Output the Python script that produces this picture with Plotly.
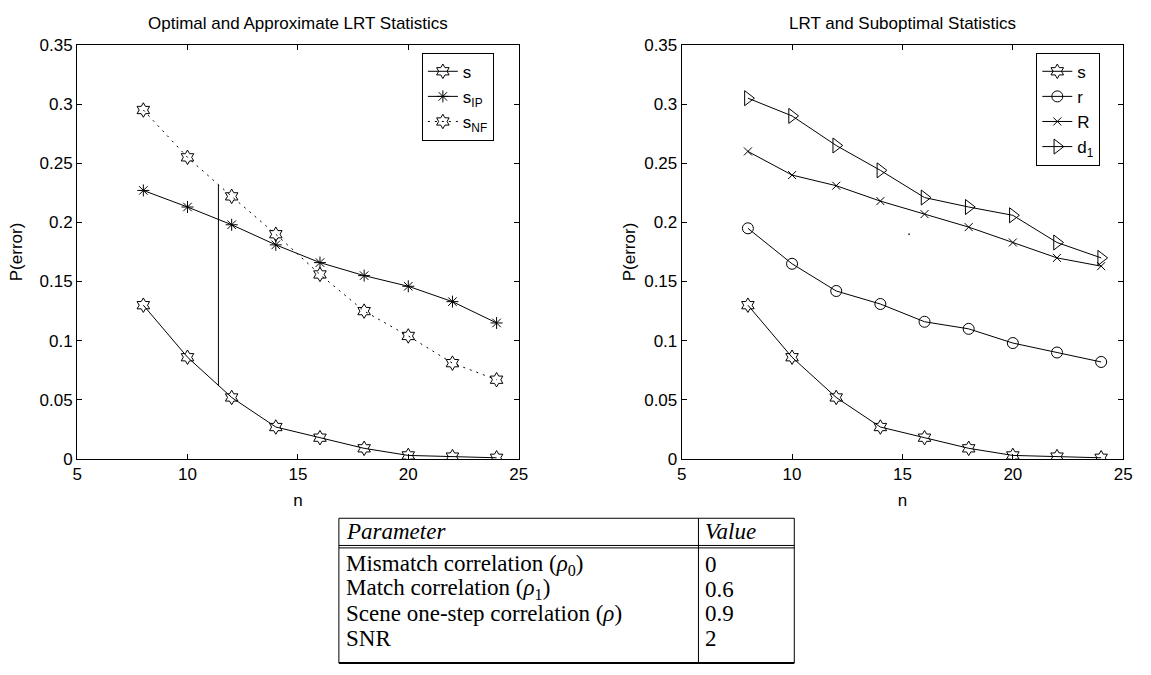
import plotly.graph_objects as go

# ---------------- data ----------------
n_vals = [8, 10, 12, 14, 16, 18, 20, 22, 24]

# left panel
s_vals = [0.130, 0.086, 0.052, 0.027, 0.018, 0.009, 0.003, 0.002, 0.001]
s_ip_vals = [0.227, 0.213, 0.198, 0.181, 0.166, 0.155, 0.146, 0.133, 0.115]
s_nf_vals = [0.295, 0.255, 0.222, 0.190, 0.156, 0.125, 0.104, 0.081, 0.067]
vline_x = [11.4, 11.4]
vline_y = [0.0615, 0.2317]

# right panel
r_vals = [0.195, 0.165, 0.142, 0.131, 0.116, 0.110, 0.098, 0.090, 0.082]
R_vals = [0.260, 0.240, 0.231, 0.218, 0.207, 0.196, 0.183, 0.170, 0.163]
d1_vals = [0.305, 0.290, 0.265, 0.244, 0.221, 0.213, 0.206, 0.183, 0.170]
dot_x = [15.3]
dot_y = [0.190]

x_ticks = [5, 10, 15, 20, 25]
y_ticks = [0, 0.05, 0.1, 0.15, 0.2, 0.25, 0.3, 0.35]
y_tick_text = ["0", "0.05", "0.1", "0.15", "0.2", "0.25", "0.3", "0.35"]

titles = ["Optimal and Approximate LRT Statistics", "LRT and Suboptimal Statistics"]

table_header = ["Parameter", "Value"]
table_params = ["Mismatch correlation (<i>ρ</i><sub>0</sub>)",
                "Match correlation (<i>ρ</i><sub>1</sub>)",
                "Scene one-step correlation (<i>ρ</i>)",
                "SNR"]
table_values = ["0", "0.6", "0.9", "2"]

# ---------------- layout helpers ----------------
W, H = 1151, 675
def px(x):
    return x / W
def py(y):
    return 1 - y / H

SANS = "Liberation Sans, Arial, sans-serif"
SERIF = "Liberation Serif, Times New Roman, serif"
BLACK = "black"

fig = go.Figure()

def line_kw(dash="solid"):
    return dict(color=BLACK, width=1, dash=dash)

def mk(symbol, size):
    return dict(symbol=symbol, size=size, color=BLACK, line=dict(width=1, color=BLACK))

# left panel traces
fig.add_trace(go.Scatter(x=n_vals, y=s_vals, mode="lines+markers", name="s",
                         line=line_kw(), marker=mk("hexagram-open", 11),
                         xaxis="x", yaxis="y", legend="legend"))
fig.add_trace(go.Scatter(x=n_vals, y=s_ip_vals, mode="lines+markers", name="s<sub>IP</sub>",
                         line=line_kw(), marker=mk("asterisk-open", 10),
                         xaxis="x", yaxis="y", legend="legend"))
fig.add_trace(go.Scatter(x=n_vals, y=s_nf_vals, mode="lines+markers", name="s<sub>NF</sub>",
                         line=line_kw("2px,5px"), marker=mk("hexagram-open", 11),
                         xaxis="x", yaxis="y", legend="legend"))
fig.add_trace(go.Scatter(x=vline_x, y=vline_y, mode="lines", showlegend=False,
                         line=line_kw(), xaxis="x", yaxis="y", hoverinfo="skip"))

# right panel traces
fig.add_trace(go.Scatter(x=n_vals, y=s_vals, mode="lines+markers", name="s",
                         line=line_kw(), marker=mk("hexagram-open", 11),
                         xaxis="x2", yaxis="y2", legend="legend2"))
fig.add_trace(go.Scatter(x=n_vals, y=r_vals, mode="lines+markers", name="r",
                         line=line_kw(), marker=mk("circle-open", 11),
                         xaxis="x2", yaxis="y2", legend="legend2"))
fig.add_trace(go.Scatter(x=n_vals, y=R_vals, mode="lines+markers", name="R",
                         line=line_kw(), marker=mk("x-thin-open", 8),
                         xaxis="x2", yaxis="y2", legend="legend2"))
fig.add_trace(go.Scatter(x=n_vals, y=d1_vals, mode="lines+markers", name="d<sub>1</sub>",
                         line=line_kw(), marker=mk("triangle-right-open", 13),
                         xaxis="x2", yaxis="y2", legend="legend2"))
fig.add_trace(go.Scatter(x=dot_x, y=dot_y, mode="markers", showlegend=False,
                         marker=dict(symbol="circle", size=2, color="#444"),
                         xaxis="x2", yaxis="y2", hoverinfo="skip"))

TICK_FONT = dict(family=SANS, size=17, color=BLACK)

# axes
def xaxis(domain, anchor):
    return dict(domain=domain, anchor=anchor, range=[5, 25], tickvals=x_ticks,
                ticks="inside", ticklen=5, tickcolor=BLACK, showline=True,
                linecolor=BLACK, linewidth=1, mirror="ticks", showgrid=False,
                zeroline=False, tickfont=TICK_FONT,
                title=dict(text="n", font=TICK_FONT, standoff=10))

def yaxis(domain, anchor, standoff):
    return dict(domain=domain, anchor=anchor, range=[0, 0.35], tickvals=y_ticks,
                ticktext=y_tick_text, ticks="inside", ticklen=5, tickcolor=BLACK,
                showline=True, linecolor=BLACK, linewidth=1, mirror="ticks",
                showgrid=False, zeroline=False, tickfont=TICK_FONT,
                title=dict(text="P(error)", font=TICK_FONT, standoff=standoff))

ydom = [py(463), py(37)]
legend_common = dict(bgcolor="white", bordercolor=BLACK, borderwidth=1,
                     font=dict(family=SANS, size=17, color=BLACK),
                     xanchor="left", yanchor="top", itemwidth=30,
                     tracegroupgap=0)

fig.update_layout(
    width=W, height=H,
    margin=dict(l=0, r=0, t=0, b=0),
    paper_bgcolor="white", plot_bgcolor="white",
    xaxis=xaxis([px(73), px(520)], "y"),
    yaxis=yaxis(ydom, "x", 12),
    xaxis2=xaxis([px(685), px(1132)], "y2"),
    yaxis2=yaxis(ydom, "x2", 4),
    legend=dict(x=px(422), y=py(45), **legend_common),
    legend2=dict(x=px(1044), y=py(45), **legend_common),
    showlegend=True,
)

# titles
for i, (x0, x1) in enumerate([(73, 520), (685, 1132)]):
    fig.add_annotation(text=titles[i], xref="paper", yref="paper",
                       x=px((x0 + x1) / 2), y=py(15), xanchor="center", yanchor="middle",
                       showarrow=False, font=dict(family=SANS, size=17, color=BLACK))

# table geometry (pixels)
t_left, t_right, t_div = 338, 799, 702
t_top, t_sep, t_bot = 524, 552, 673
row_y = [572, 597, 622, 648]
header_y = 538
TFONT = dict(family=SERIF, size=23, color=BLACK)

def hline(y, x0, x1, w=1):
    fig.add_shape(type="line", xref="paper", yref="paper",
                  x0=px(x0), x1=px(x1), y0=py(y), y1=py(y),
                  line=dict(color=BLACK, width=w))

def vline(x, y0, y1, w=1):
    fig.add_shape(type="line", xref="paper", yref="paper",
                  x0=px(x), x1=px(x), y0=py(y0), y1=py(y1),
                  line=dict(color=BLACK, width=w))

hline(t_top, t_left, t_right)
hline(t_sep, t_left, t_right)
hline(t_sep + 2.5, t_left, t_right)
hline(t_bot, t_left, t_right, 2)
vline(t_left, t_top, t_bot)
vline(t_right, t_top, t_bot)
vline(t_div, t_top, t_bot)

fig.add_annotation(text="<i>" + table_header[0] + "</i>", xref="paper", yref="paper",
                   x=px(t_left + 5), y=py(header_y), xanchor="left", yanchor="middle",
                   showarrow=False, font=TFONT)
fig.add_annotation(text="<i>" + table_header[1] + "</i>", xref="paper", yref="paper",
                   x=px(t_div + 5), y=py(header_y), xanchor="left", yanchor="middle",
                   showarrow=False, font=TFONT)
for p, v, y in zip(table_params, table_values, row_y):
    fig.add_annotation(text=p, xref="paper", yref="paper", x=px(t_left + 5), y=py(y),
                       xanchor="left", yanchor="middle", showarrow=False, font=TFONT)
    fig.add_annotation(text=v, xref="paper", yref="paper", x=px(t_div + 5), y=py(y),
                       xanchor="left", yanchor="middle", showarrow=False, font=TFONT)

fig.write_html("out.html")
